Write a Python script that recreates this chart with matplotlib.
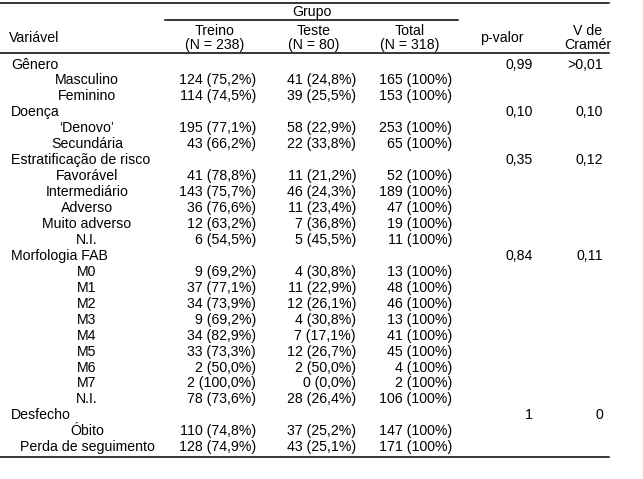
import matplotlib
matplotlib.use("Agg")
import matplotlib.pyplot as plt

plt.rcParams['font.family'] = ['Liberation Sans', 'DejaVu Sans']

# ---- data ----
variables = ["Gênero", "Doença", "Estratificação de risco", "Morfologia FAB", "Desfecho"]
levels = [
    ["Masculino", "Feminino"],
    ["‘Denovo’", "Secundária"],
    ["Favorável", "Intermediário", "Adverso", "Muito adverso", "N.I."],
    ["M0", "M1", "M2", "M3", "M4", "M5", "M6", "M7", "N.I."],
    ["Óbito", "Perda de seguimento"],
]
treino_n = [[124, 114], [195, 43], [41, 143, 36, 12, 6],
            [9, 37, 34, 9, 34, 33, 2, 2, 78], [110, 128]]
treino_pct = [["75,2", "74,5"], ["77,1", "66,2"],
              ["78,8", "75,7", "76,6", "63,2", "54,5"],
              ["69,2", "77,1", "73,9", "69,2", "82,9", "73,3", "50,0", "100,0", "73,6"],
              ["74,8", "74,9"]]
teste_n = [[41, 39], [58, 22], [11, 46, 11, 7, 5],
           [4, 11, 12, 4, 7, 12, 2, 0, 28], [37, 43]]
teste_pct = [["24,8", "25,5"], ["22,9", "33,8"],
             ["21,2", "24,3", "23,4", "36,8", "45,5"],
             ["30,8", "22,9", "26,1", "30,8", "17,1", "26,7", "50,0", "0,0", "26,4"],
             ["25,2", "25,1"]]
total_n = [[165, 153], [253, 65], [52, 189, 47, 19, 11],
           [13, 48, 46, 13, 41, 45, 4, 2, 106], [147, 171]]
p_valor = ["0,99", "0,10", "0,35", "0,84", "1"]
v_cramer = [">0,01", "0,10", "0,12", "0,11", "0"]
group_header = "Grupo"
col_names = ["Treino", "Teste", "Total"]
col_ns = ["(N = 238)", "(N = 80)", "(N = 318)"]

# ---- layout (pixels) ----
W, H = 643, 479
fig = plt.figure(figsize=(W / 100, H / 100), dpi=100)
ax = fig.add_axes([0, 0, 1, 1])
ax.set_xlim(0, W)
ax.set_ylim(H, 0)
ax.axis('off')

fs = 10.2
x_var = 11
x_lvl = 87
col_centers = [215, 314, 410]
col_rights = [256, 356, 452]
x_p_head = 502
x_p = 533
x_v_head = 588
x_v = 603
line_end = 609
lw = 1.1

# header
ax.plot([0, line_end], [3, 3], color='black', lw=lw)
ax.text(312, 11.5, group_header, ha='center', va='center', fontsize=fs)
ax.plot([165, 458], [19.5, 19.5], color='black', lw=lw)
for cx, nm, nn in zip(col_centers, col_names, col_ns):
    ax.text(cx, 30.5, nm, ha='center', va='center', fontsize=fs)
    ax.text(cx, 45, nn, ha='center', va='center', fontsize=fs)
ax.text(x_var - 2, 38, "Variável", ha='left', va='center', fontsize=fs)
ax.text(x_p_head, 38, "p-valor", ha='center', va='center', fontsize=fs)
ax.text(x_v_head, 30.5, "V de", ha='center', va='center', fontsize=fs)
ax.text(x_v_head, 45, "Cramér", ha='center', va='center', fontsize=fs)
ax.plot([0, line_end], [53, 53], color='black', lw=lw)

y = 64.5
dy = 15.95
for i, var in enumerate(variables):
    ax.text(x_var, y, var, ha='left', va='center', fontsize=fs)
    ax.text(x_p, y, p_valor[i], ha='right', va='center', fontsize=fs)
    ax.text(x_v, y, v_cramer[i], ha='right', va='center', fontsize=fs)
    y += dy
    for j, lvl in enumerate(levels[i]):
        ax.text(x_lvl, y, lvl, ha='center', va='center', fontsize=fs)
        ax.text(col_rights[0], y, f"{treino_n[i][j]} ({treino_pct[i][j]}%)",
                ha='right', va='center', fontsize=fs)
        ax.text(col_rights[1], y, f"{teste_n[i][j]} ({teste_pct[i][j]}%)",
                ha='right', va='center', fontsize=fs)
        ax.text(col_rights[2], y, f"{total_n[i][j]} (100%)",
                ha='right', va='center', fontsize=fs)
        y += dy

ax.plot([0, line_end], [y - dy + 9.5, y - dy + 9.5], color='black', lw=lw)

fig.savefig("out.png", dpi=100, facecolor='white')
